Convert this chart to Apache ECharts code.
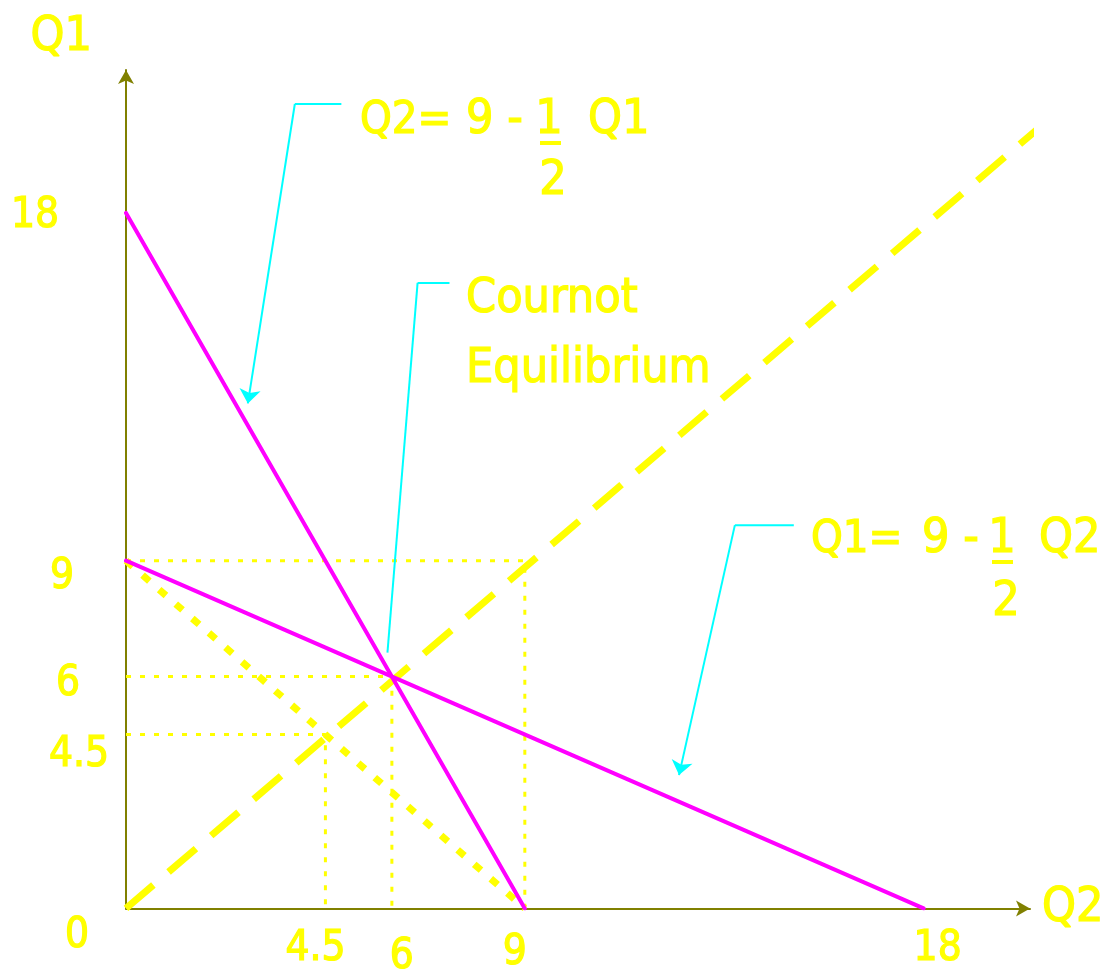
<!DOCTYPE html>
<html>
<head>
    <meta charset="utf-8" />
    <title>Cournot Equilibrium</title>
    <script src="https://cdn.jsdelivr.net/npm/echarts@6/dist/echarts.min.js"></script>
    <style>
        html, body { margin: 0; padding: 0; background: #fff; }
        #main { width: 1114px; height: 979px; }
    </style>
</head>
<body>
<div id="main"></div>
<script type="text/javascript">
    // all points are [Q2, Q1]
    var reaction2 = [[0, 18], [9, 0]];      // Q2 = 9 - 1/2 Q1
    var reaction1 = [[0, 9], [18, 0]];      // Q1 = 9 - 1/2 Q2
    var isoTotal = [[0, 9], [9, 0]];        // Q1 + Q2 = 9
    var diagonal = [[0, 0], [20.6, 20.2]];  // Q1 = Q2
    var guides = [9, 6, 4.5];
    var xTicks = [4.5, 6, 9, 18];
    var yTicks = [0, 4.5, 6, 9, 18];
    // callouts: text end, elbow, tip
    var callouts = [
        [[4.86, 20.82], [3.81, 20.82], [2.75, 13.07]],
        [[7.30, 16.19], [6.58, 16.19], [5.90, 6.62]],
        [[15.07, 9.92], [13.74, 9.92], [12.48, 3.45]]
    ];
    var calloutArrow = [true, false, true];

    var YELLOW = '#ffff00', MAGENTA = '#ff00ff', CYAN = '#00ffff', OLIVE = '#808000';
    var FONT = 'DejaVu Sans Condensed';

    // the tick labels were placed by hand, nudge each one to where it was drawn
    function pad(p) {
        return {padding: p, textBorderColor: YELLOW, textBorderWidth: 1.2};
    }
    var xRich = {
        x0: pad([0, 20, 0, 0]),
        x1: pad([8, 0, 0, 20]),
        x2: pad([4, 20, 0, 0]),
        x3: pad([0, 0, 0, 28])
    };
    var yRich = {
        y0: pad([56, 0, 0, 12]),
        y1: pad([42, 0, 0, 16]),
        y2: pad([16, 6, 0, 0]),
        y3: pad([32, 18, 0, 0]),
        y4: pad([6, 72, 0, 0])
    };

    function tickLabel(list, prefix) {
        return function (v) {
            for (var i = 0; i < list.length; i++) {
                if (Math.abs(list[i] - v) < 1e-6) return '{' + prefix + i + '|' + list[i] + '}';
            }
            return '';
        };
    }

    var series = [];

    guides.forEach(function (g) {
        series.push({
            type: 'line', data: [[0, g], [g, g], [g, 0]], symbol: 'none', silent: true,
            lineStyle: {color: YELLOW, width: 3, type: [5, 9]}
        });
    });

    series.push({
        type: 'line', data: isoTotal, symbol: 'none', silent: true,
        lineStyle: {color: YELLOW, width: 7, type: [9, 13]}
    });
    series.push({
        type: 'line', data: diagonal, symbol: 'none', silent: true, clip: false,
        lineStyle: {color: YELLOW, width: 7, type: [36, 20]}
    });
    series.push({
        type: 'line', data: reaction2, symbol: 'none', silent: true,
        lineStyle: {color: MAGENTA, width: 4, cap: 'round'}
    });
    series.push({
        type: 'line', data: reaction1, symbol: 'none', silent: true,
        lineStyle: {color: MAGENTA, width: 4, cap: 'round'}
    });

    callouts.forEach(function (c, i) {
        series.push({
            type: 'line', data: [c[0], c[1]], symbol: 'none', silent: true, clip: false,
            lineStyle: {color: CYAN, width: 2},
            markLine: {
                silent: true,
                symbol: ['none', calloutArrow[i] ? 'arrow' : 'none'],
                symbolSize: [16, 14],
                label: {show: false},
                lineStyle: {color: CYAN, width: 2, type: 'solid'},
                data: [[{coord: c[1]}, {coord: c[2]}]]
            }
        });
    });

    function txt(text, x, y, align, size) {
        return {
            type: 'text', x: x, y: y,
            style: {
                text: text, fill: YELLOW, stroke: YELLOW, lineWidth: 1.2,
                font: (size || 48) + 'px "' + FONT + '"', align: align || 'left', verticalAlign: 'middle'
            }
        };
    }

    var graphic = [
        txt('Q2=', 360, 121, 'left', 45), txt('9 -', 466, 121), txt('1', 549, 121, 'center'), txt('Q1', 588, 121),
        {type: 'rect', shape: {x: 540, y: 141, width: 21, height: 4}, style: {fill: YELLOW}},
        txt('2', 553, 182, 'center'),
        txt('Cournot', 466, 300), txt('Equilibrium', 466, 370),
        txt('Q1=', 811, 540, 'left', 45), txt('9 -', 922, 540), txt('1', 1002, 540, 'center'), txt('Q2', 1039, 540),
        {type: 'rect', shape: {x: 992, y: 560, width: 21, height: 4}, style: {fill: YELLOW}},
        txt('2', 1006, 603, 'center')
    ];

    var nameStyle = {color: YELLOW, fontSize: 48, fontFamily: FONT, textBorderColor: YELLOW, textBorderWidth: 1.2};

    var myChart = echarts.init(document.getElementById('main'));
    var option = {
        animation: false,
        backgroundColor: '#ffffff',
        grid: {left: 126, right: 84, top: 70, bottom: 67},
        xAxis: {
            type: 'value', min: 0, max: 20.4, interval: 1.5,
            name: 'Q2', nameLocation: 'end', nameGap: 12,
            nameTextStyle: echarts.util.extend({align: 'left', verticalAlign: 'middle', padding: [40, 0, 0, 0]}, nameStyle),
            axisLine: {lineStyle: {color: OLIVE, width: 2}, symbol: ['none', 'arrow'], symbolSize: [12, 14]},
            axisTick: {show: false},
            splitLine: {show: false},
            axisLabel: {
                color: YELLOW, fontSize: 42, fontFamily: FONT, margin: 20,
                showMinLabel: true, showMaxLabel: false,
                formatter: tickLabel(xTicks, 'x'), rich: xRich
            }
        },
        yAxis: {
            type: 'value', min: 0, max: 21.7, interval: 1.5,
            name: 'Q1', nameLocation: 'end', nameGap: 32,
            nameTextStyle: echarts.util.extend({align: 'right', verticalAlign: 'middle', padding: [0, 34, 0, 0]}, nameStyle),
            axisLine: {lineStyle: {color: OLIVE, width: 2}, symbol: ['none', 'arrow'], symbolSize: [12, 14]},
            axisTick: {show: false},
            splitLine: {show: false},
            axisLabel: {
                color: YELLOW, fontSize: 42, fontFamily: FONT, margin: 55, align: 'center',
                showMinLabel: true, showMaxLabel: false,
                formatter: tickLabel(yTicks, 'y'), rich: yRich
            }
        },
        graphic: graphic,
        series: series
    };

    myChart.setOption(option);
</script>
</body>
</html>
